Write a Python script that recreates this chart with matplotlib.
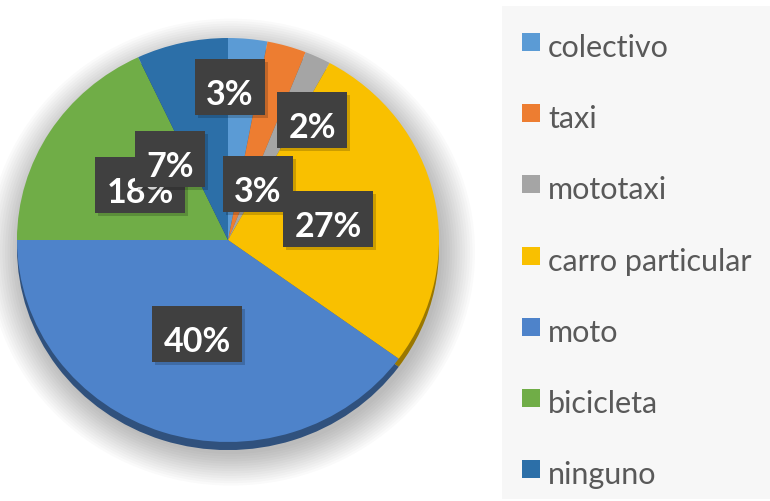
import matplotlib
matplotlib.use("Agg")
import matplotlib.pyplot as plt
import matplotlib.colors as mcolors
from matplotlib.patches import Ellipse, Rectangle

# data
categories = ["colectivo", "taxi", "mototaxi", "carro particular", "moto", "bicicleta", "ninguno"]
values = [3, 3, 2, 27, 40, 18, 7]
slice_colors = ["#5B9BD5", "#ED7D31", "#A5A5A5", "#F9C000", "#4E83CA", "#70AD47", "#2C6FA8"]

# label baselines (pixels, y down) - Excel "best fit" placement
label_pos = [(230, 105), (258, 202), (312, 138), (328, 237), (197, 352), (140, 203), (170, 177)]

W, H = 770, 502
fig = plt.figure(figsize=(W / 100, H / 100), dpi=100)
fig.patch.set_facecolor("white")

# overlay axes in pixel units
ov = fig.add_axes([0, 0, 1, 1], zorder=5)
ov.set_xlim(0, W)
ov.set_ylim(0, H)
ov.axis("off")

# legend panel background
bg = fig.add_axes([0, 0, 1, 1], zorder=0)
bg.set_xlim(0, W)
bg.set_ylim(0, H)
bg.axis("off")
bg.add_patch(Rectangle((502, H - 500), 280, 493, facecolor="#F7F7F7", edgecolor="none"))

# pie geometry (pixels)
cx, cy, rx, ry = 228, 241, 211, 202
pax = fig.add_axes([(cx - rx) / W, (H - cy - ry) / H, 2 * rx / W, 2 * ry / H], zorder=2)
pax.axis("off")

# soft shadow
for i in range(14):
    s = 1.0 + i * 0.012
    pax.add_patch(Ellipse((0.015, -0.06), 2 * s, 2 * s, facecolor="black",
                          edgecolor="none", alpha=0.018, clip_on=False, zorder=0))

# darker rim for a 3D look
dark = [tuple(c * 0.62 for c in mcolors.to_rgb(c)) for c in slice_colors]
rim, _ = pax.pie(values, colors=dark, startangle=90, counterclock=False,
                 center=(0, -0.04), radius=1.0, wedgeprops=dict(linewidth=0))
for w in rim:
    w.set_zorder(1)
    w.set_clip_on(False)

wedges, _ = pax.pie(values, colors=slice_colors, startangle=90, counterclock=False,
                    center=(0, 0), radius=1.0, wedgeprops=dict(linewidth=0))
for w in wedges:
    w.set_zorder(2)
    w.set_clip_on(False)

pax.set_aspect("auto")
pax.set_xlim(-1, 1)
pax.set_ylim(-1, 1)

# data labels: dark boxes with white bold text
fig.canvas.draw()
renderer = fig.canvas.get_renderer()
for i, (v, (lx, ly)) in enumerate(zip(values, label_pos)):
    base = H - ly
    t = ov.text(lx, base, f"{v}%", ha="center", va="baseline", color="white",
                fontsize=24.5, fontweight="bold", family=["Lato", "DejaVu Sans"], zorder=10 + 2 * i + 1)
    ext = t.get_window_extent(renderer)
    bw = ext.width + 22
    ov.add_patch(Rectangle((lx - bw / 2 + 3, base - 14), bw, 56, facecolor="black",
                           edgecolor="none", alpha=0.18, zorder=10 + 2 * i))
    ov.add_patch(Rectangle((lx - bw / 2, base - 11), bw, 56, facecolor="#404040",
                           edgecolor="none", zorder=10 + 2 * i))

# legend (drawn by hand to match Excel spacing)
for i, (name, c) in enumerate(zip(categories, slice_colors)):
    top = 34 + i * 71.2
    ov.add_patch(Rectangle((522, H - top - 18), 18, 18, facecolor=c, edgecolor="none"))
    ov.text(548, H - top - 23, name, ha="left", va="baseline", color="#595959",
            fontsize=22, family=["Lato", "DejaVu Sans"])

fig.savefig("out.png", dpi=100)
